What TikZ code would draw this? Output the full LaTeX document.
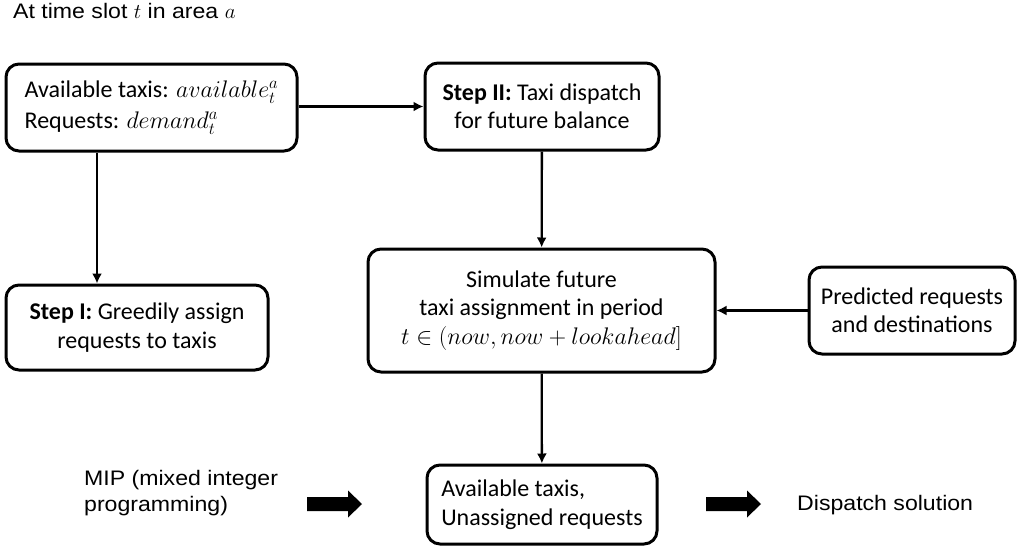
\RequirePackage{fix-cm}
\documentclass[tikz,border=0pt]{standalone}
\usepackage{fontspec}
\setmainfont{Carlito}
\newfontfamily\arialf[FakeStretch=1.1]{Liberation Sans}
\usetikzlibrary{arrows.meta}
\tikzset{
  fatarrow/.pic={\fill[black] (-27.5,-7) -- (13.5,-7) -- (13.5,-13.5) -- (27.5,0)
     -- (13.5,13.5) -- (13.5,7) -- (-27.5,7) -- cycle;}
}
\begin{document}
\begin{tikzpicture}[x=1pt,y=-1pt,
  box/.style={draw=black, line width=3pt, rounded corners=13pt, inner sep=0pt,
    font=\fontsize{24}{28.5}\selectfont},
  arr/.style={line width=2.3pt, -{Latex[length=10pt,width=10pt]}},
  lbl/.style={inner sep=0pt, font=\arialf\fontsize{21}{26.5}\selectfont}
]
\useasboundingbox (0,0) rectangle (1018,549);
\node[lbl, anchor=base west] (title) at (13,18.5) {At time slot $t$ in area $a$};

\node[box, minimum width=291pt, minimum height=87pt, align=left] (A) at (151.5,107.5)
  {Available taxis: $available_t^a$\\[3pt]Requests: $demand_t^a$};
\node[box, minimum width=234pt, minimum height=87pt, align=center] (S2) at (542,106.5)
  {\textbf{Step II:} Taxi dispatch\\for future balance};
\node[box, minimum width=262pt, minimum height=85pt, align=center] (S1) at (137,327.5)
  {\textbf{Step I:} Greedily assign\\requests to taxis};
\node[box, minimum width=347pt, minimum height=123pt, align=center] (Sim) at (541.5,310.5)
  {Simulate future\\taxi assignment in period\\$t \in (now, now + lookahead]$};
\node[box, minimum width=206pt, minimum height=87pt, align=center] (P) at (912,310.5)
  {Predicted requests\\and destinations};
\node[box, minimum width=230pt, minimum height=79pt, align=left] (B) at (542,504.5)
  {Available taxis,\\Unassigned requests};

\coordinate (c1) at (97,0);
\draw[arr] (A.east |- S2) -- (S2);
\draw[arr] (A.south -| c1) -- (S1.north -| c1);
\draw[arr] (S2) -- (Sim);
\draw[arr] (P) -- (Sim);
\draw[arr] (Sim) -- (B);

\node[lbl, anchor=north west, align=left] (mip) at (84,470) {MIP (mixed integer\\programming)};
\pic at (334.5,504) {fatarrow};
\pic at (733.5,504) {fatarrow};
\node[lbl, anchor=base west] (sol) at (797,510) {Dispatch solution};
\end{tikzpicture}
\end{document}
